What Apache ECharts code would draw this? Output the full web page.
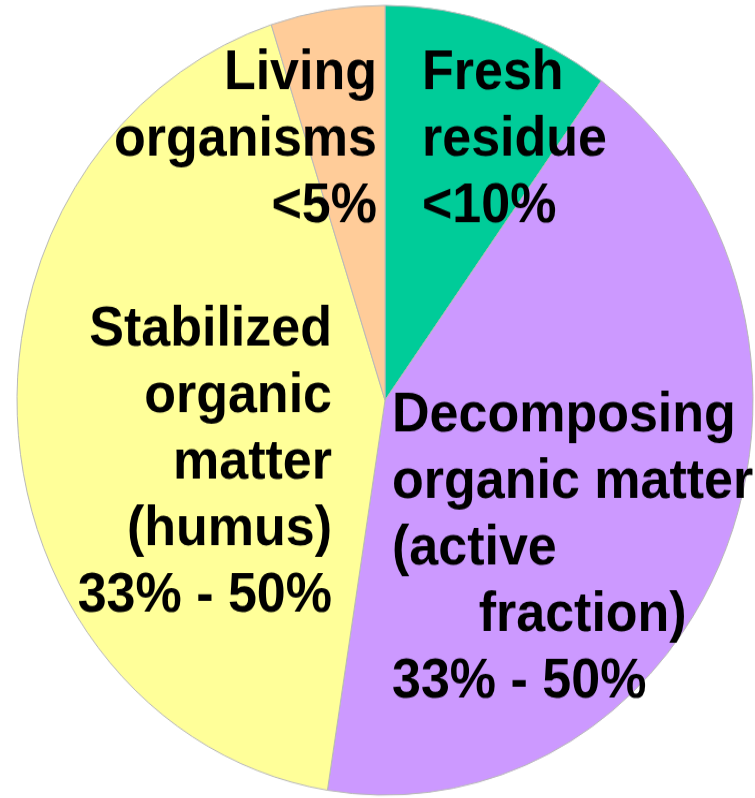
<!DOCTYPE html>
<html>
<head>
<meta charset="utf-8">
<script src="https://cdn.jsdelivr.net/npm/echarts@6/dist/echarts.min.js"></script>
<style>
  html { overflow: hidden; }
  body { margin: 0; padding: 0; background: #fff; height: 798px; }
  /* the original pie is a little taller than wide */
  #chart { width: 755px; height: 744px; transform: scaleY(1.073); transform-origin: 0 0; }
</style>
</head>
<body>
<div id="chart"></div>
<script>
var names = ['Fresh residue', 'Decomposing organic matter', 'Stabilized organic matter', 'Living organisms'];
var shares = [10, 42.5, 42.5, 5];
var labels = [
    'Fresh\nresidue\n<10%',
    'Decomposing\norganic matter\n(active\n      fraction)\n33% - 50%',
    'Stabilized\norganic\nmatter\n(humus)\n33% - 50%',
    'Living\norganisms\n<5%'
];
var colors = ['#00CC99', '#CC99FF', '#FFFF99', '#FFCC99'];

// where each label block sits (x, y of its anchor, alignment)
var labelPos = [
    {x: 422, y: 131, align: 'left'},
    {x: 392, y: 512, align: 'left'},
    {x: 332, y: 432, align: 'right'},
    {x: 377, y: 131, align: 'right'}
];

var data = [];
for (var i = 0; i < names.length; i++) {
    data.push({name: names[i], value: shares[i], itemStyle: {color: colors[i]}});
}

var chart = echarts.init(document.getElementById('chart'));
chart.setOption({
    animation: false,
    series: [{
        type: 'pie',
        center: [385, 373],
        radius: 368,
        startAngle: 90,
        clockwise: true,
        avoidLabelOverlap: false,
        data: data,
        itemStyle: {borderColor: '#b8b8b8', borderWidth: 1},
        label: {
            show: true,
            position: 'inside',
            formatter: function (p) { return labels[p.dataIndex]; },
            fontFamily: 'Liberation Sans, Arial, sans-serif',
            fontWeight: 'bold',
            fontSize: 52,
            lineHeight: 62,
            color: '#000'
        },
        labelLine: {show: false},
        labelLayout: function (p) {
            var pos = labelPos[p.dataIndex];
            return {x: pos.x, y: pos.y, align: pos.align, verticalAlign: 'middle'};
        },
        emphasis: {disabled: true}
    }]
});
</script>
</body>
</html>
